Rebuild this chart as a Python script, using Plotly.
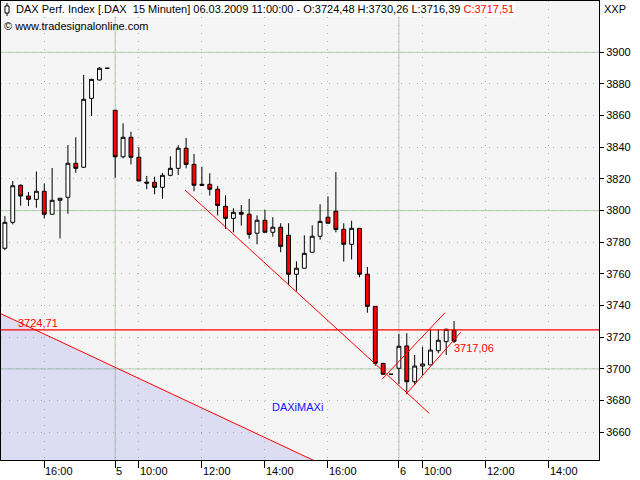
import plotly.graph_objects as go

# ---------------- data ----------------
# bar index: 0 = 04.03. 16:00, 9 = first bar 05.03., 45 = first bar 06.03.
bar_index = list(range(-5, 53))
opens = [3776.2, 3792.6, 3816.0, 3809.2, 3807.1, 3812.2, 3797.7, 3806.5, 3808.4, 3829.9,
         3827.4, 3870.9, 3882.5, 3889.9, 3863.4, 3834.0, 3846.3, 3833.7, 3818.0, 3817.9,
         3814.7, 3822.3, 3826.7, 3839.4, 3829.2, 3816.6, 3816.6, 3813.5, 3802.7, 3795.1,
         3798.9, 3797.7, 3785.7, 3793.9, 3786.3, 3789.5, 3784.4, 3759.8, 3763.6, 3773.7,
         3783.8, 3795.8, 3799.6, 3788.2, 3778.7, 3788.8, 3759.8, 3739.5, 3703.5, 3696.6,
         3700.4, 3714.5, 3691.9, 3701.8, 3702.5, 3711.5, 3717.2, 3724.48]
highs = [3796.6, 3818.7, 3816.5, 3811.7, 3824.7, 3817.2, 3826.9, 3808.0, 3841.4, 3846.3,
         3885.7, 3883.2, 3890.7, 3889.9, 3863.4, 3855.1, 3849.8, 3840.0, 3821.9, 3821.4,
         3823.8, 3834.3, 3841.3, 3845.9, 3835.8, 3827.7, 3823.6, 3815.5, 3809.7, 3801.5,
         3803.5, 3807.3, 3797.0, 3800.4, 3795.8, 3792.0, 3792.0, 3768.0, 3784.4, 3790.7,
         3804.0, 3809.0, 3824.3, 3792.0, 3793.6, 3788.8, 3764.4, 3739.5, 3703.5, 3696.6,
         3722.0, 3722.5, 3708.8, 3714.0, 3725.0, 3725.0, 3725.5, 3730.26]
lows = [3775.0, 3791.3, 3803.1, 3802.9, 3801.8, 3795.0, 3797.5, 3782.5, 3798.0, 3823.9,
        3827.0, 3859.8, 3882.2, 3889.9, 3820.8, 3833.0, 3829.2, 3818.7, 3813.5, 3810.3,
        3807.5, 3821.7, 3822.5, 3826.7, 3812.2, 3816.0, 3809.5, 3796.9, 3788.4, 3786.3,
        3790.5, 3782.2, 3778.7, 3786.3, 3783.5, 3773.7, 3752.8, 3749.0, 3763.6, 3773.7,
        3781.6, 3792.0, 3786.3, 3767.8, 3769.1, 3757.9, 3735.5, 3702.0, 3696.6, 3696.6,
        3690.5, 3684.0, 3689.8, 3696.1, 3702.5, 3709.9, 3708.8, 3716.39]
closes = [3792.6, 3815.7, 3809.2, 3807.1, 3812.2, 3797.7, 3806.5, 3807.8, 3829.9, 3826.7,
          3870.3, 3882.9, 3889.9, 3889.9, 3834.0, 3846.3, 3833.7, 3818.7, 3817.4, 3814.7,
          3822.3, 3826.7, 3839.4, 3829.2, 3816.0, 3816.0, 3813.5, 3803.2, 3795.1, 3798.9,
          3797.7, 3785.0, 3793.9, 3786.3, 3789.5, 3777.4, 3759.8, 3763.6, 3773.0, 3783.8,
          3793.2, 3792.0, 3788.1, 3778.7, 3788.8, 3759.8, 3739.5, 3703.5, 3696.6, 3696.6,
          3714.3, 3691.9, 3701.8, 3703.1, 3711.9, 3718.1, 3725.0, 3717.51]

tick_index = [0, 9, 12, 20, 28, 36, 45, 48, 56, 64]
tick_text = ["16:00", "5", "10:00", "12:00", "14:00", "16:00", "6", "10:00", "12:00", "14:00"]
day_start_index = [9, 45]

y_tick_values = [3660, 3680, 3700, 3720, 3740, 3760, 3780, 3800, 3820, 3840, 3860, 3880, 3900]
y_range = [3642.45, 3932.4]
x_range = [-5.49, 70.39]
y_solid_levels = [3700, 3800, 3900]

trend_down_x = [17.86, 48.86]
trend_down_y = [3813.0, 3671.9]
channel_upper_x = [42.89, 50.85]
channel_upper_y = [3693.6, 3735.5]
channel_lower_x = [45.9, 52.84]
channel_lower_y = [3684.0, 3723.1]
daximaxi_x = [-6.0, 40.0]
daximaxi_y = [3736.0, 3628.6]
level_value = 3724.71
channel_value = 3717.06

header_text = ("DAX Perf. Index [.DAX\u00a0\u00a015 Minuten] 06.03.2009 11:00:00 - "
               "O:3724,48 H:3730,26 L:3716,39 <span style='color:#ff0000'>C:3717,51</span>")
copyright_text = "\u00a9 www.tradesignalonline.com"

# ---------------- figure ----------------
FONT = "Liberation Sans, Arial, sans-serif"
PL, PR, PT, PB = 1, 599, 1, 460


def px(xp):
    return (xp - PL) / (PR - PL)


def py(yp):
    return (PB - yp) / (PB - PT)


def fmt(v):
    return f"{v:.2f}".replace(".", ",")


fig = go.Figure()

# DAXiMAXi band (semi-transparent lavender under the red line)
fig.add_trace(go.Scatter(x=daximaxi_x, y=daximaxi_y, mode="lines",
                         line=dict(color="#ff0000", width=1),
                         fill="tozeroy", fillcolor="rgba(100,100,230,0.17)",
                         hoverinfo="skip", showlegend=False))

fig.add_trace(go.Candlestick(
    x=bar_index, open=opens, high=highs, low=lows, close=closes,
    increasing=dict(fillcolor="#ffffff", line=dict(color="#000000", width=1)),
    decreasing=dict(fillcolor="#ff0000", line=dict(color="#000000", width=1)),
    whiskerwidth=0, hoverinfo="skip", showlegend=False))

for xs, ys in [(trend_down_x, trend_down_y), (channel_upper_x, channel_upper_y),
               (channel_lower_x, channel_lower_y)]:
    fig.add_trace(go.Scatter(x=xs, y=ys, mode="lines",
                             line=dict(color="#ff0000", width=1),
                             hoverinfo="skip", showlegend=False))

shapes = []
for xv in day_start_index:
    shapes.append(dict(type="line", xref="x", yref="paper", x0=xv, x1=xv, y0=0, y1=1,
                       line=dict(color="#b4ccae", width=1), layer="between"))
for yv in y_solid_levels:
    shapes.append(dict(type="line", xref="paper", yref="y", x0=0, x1=1, y0=yv, y1=yv,
                       line=dict(color="#b4ccae", width=1), layer="between"))
shapes.append(dict(type="line", xref="paper", yref="y", x0=0, x1=1,
                   y0=level_value, y1=level_value,
                   line=dict(color="#ff0000", width=1.2), layer="above"))
# header candle icon
shapes.append(dict(type="line", xref="paper", yref="paper", x0=px(7), x1=px(7),
                   y0=py(3), y1=py(16), line=dict(color="#000000", width=1), layer="above"))
shapes.append(dict(type="rect", xref="paper", yref="paper", x0=px(5), x1=px(9),
                   y0=py(6), y1=py(13), line=dict(color="#000000", width=1),
                   fillcolor="#ffffff", layer="above"))

annotations = [
    dict(text=header_text, xref="paper", yref="paper", x=px(14), y=py(9),
         xanchor="left", yanchor="middle", showarrow=False, bgcolor="#ffffff",
         font=dict(family=FONT, size=11, color="#000000")),
    dict(text=copyright_text, xref="paper", yref="paper", x=px(2), y=py(26),
         xanchor="left", yanchor="middle", showarrow=False,
         font=dict(family=FONT, size=11, color="#000000")),
    dict(text="XXP", xref="paper", yref="paper", x=px(602), y=py(9),
         xanchor="left", yanchor="middle", showarrow=False,
         font=dict(family=FONT, size=11, color="#000000")),
    dict(text=fmt(level_value), xref="x", yref="y", x=-3.6, y=3729.1,
         xanchor="left", yanchor="middle", showarrow=False,
         font=dict(family=FONT, size=11, color="#ff0000")),
    dict(text=fmt(channel_value), xref="x", yref="y", x=51.8, y=3713.2,
         xanchor="left", yanchor="middle", showarrow=False,
         font=dict(family=FONT, size=11, color="#ff0000")),
    dict(text="DAXiMAXi", xref="x", yref="y", x=32.07, y=3676.1,
         xanchor="center", yanchor="middle", showarrow=False,
         font=dict(family=FONT, size=11, color="#1414ff")),
]
for tv, tt in zip(tick_index, tick_text):
    annotations.append(dict(text=tt, xref="x", yref="paper", x=tv, y=0,
                            xanchor="left", yanchor="top", yshift=-3, xshift=-1,
                            showarrow=False,
                            font=dict(family=FONT, size=11, color="#000000")))

fig.update_layout(
    width=640, height=480,
    margin=dict(l=PL, r=640 - PR, t=PT, b=480 - PB, pad=0),
    paper_bgcolor="#ffffff", plot_bgcolor="#f5f5f5",
    showlegend=False,
    shapes=shapes, annotations=annotations,
    xaxis=dict(range=x_range, tickmode="array", tickvals=tick_index,
               showticklabels=False, ticks="outside", ticklen=7, tickcolor="#000000",
               showgrid=True, gridcolor="#a2baa2", griddash="1px,7px", gridwidth=1,
               showline=True, mirror=True, linecolor="#000000", linewidth=1,
               zeroline=False, rangeslider=dict(visible=False), fixedrange=True),
    yaxis=dict(range=y_range, side="right", tickmode="array", tickvals=y_tick_values,
               ticks="outside", ticklen=4, tickcolor="#000000",
               tickfont=dict(family=FONT, size=11, color="#000000"),
               showgrid=True, gridcolor="#a2baa2", griddash="1px,7px", gridwidth=1,
               showline=True, mirror=True, linecolor="#000000", linewidth=1,
               zeroline=False, fixedrange=True),
)

fig.write_html("out.html", config={"displayModeBar": False},
               post_script="document.body.style.margin='0px';document.body.style.overflow='hidden';")
